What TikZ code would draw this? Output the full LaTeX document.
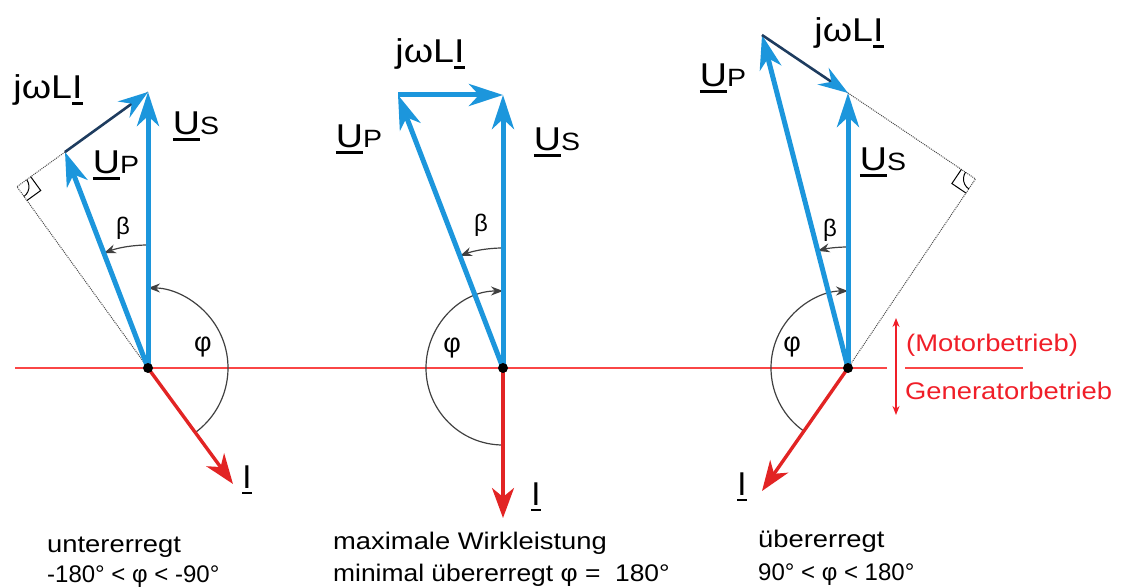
\documentclass[tikz,border=0pt]{standalone}
\usepackage{fontspec}
\setmainfont{Liberation Sans}
\usetikzlibrary{arrows.meta,calc,angles}
\definecolor{vblue}{RGB}{28,150,220}
\definecolor{vred}{RGB}{226,36,36}
\definecolor{tred}{RGB}{240,30,40}
\definecolor{lred}{RGB}{250,70,70}
\definecolor{jdark}{RGB}{30,60,95}
\newcommand\wx[1]{\scalebox{1.14}[1]{#1}}
\newcommand\ulin[1]{\vtop{\hbox{#1}\kern0.12em\hrule height 0.07em}}
\newcommand\Uv[1]{\wx{\ulin{U}{\fontsize{25}{25}\selectfont #1}}}
\newcommand\jwl{\wx{jωL\ulin{I}}}
\begin{document}
\begin{tikzpicture}[x=1pt,y=1pt,
  vec/.style={line width=5pt, vblue, -{Stealth[length=34pt,width=22pt,inset=10pt]}},
  jvec/.style={line width=2.6pt, jdark, -{Stealth[length=30pt,width=20pt,inset=10pt,color=vblue]}},
  cur/.style={line width=3.4pt, vred, -{Stealth[length=30pt,width=22pt,inset=9pt]}},
  ang/.style={line width=1.2pt, black!75, -{Stealth[length=12pt,width=9pt]}},
  helper/.style={densely dotted, line width=1pt, black!70},
  lab/.style={font=\fontsize{33}{33}\selectfont, inner sep=0pt},
  glab/.style={font=\fontsize{27}{27}\selectfont, inner sep=0pt},
  blab/.style={font=\fontsize{24}{24}\selectfont, inner sep=0pt},
  txt/.style={font=\fontsize{24}{24}\selectfont, inner sep=0pt, anchor=base west},
  rtxt/.style={txt, text=tred},
  origin/.style={circle, fill=black, inner sep=0pt, minimum size=10pt}]

\useasboundingbox (0,0) rectangle (1121,588);

% coordinates
\coordinate (O1) at (148,220);
\coordinate (Us1) at (148,496);
\coordinate (Up1) at (65,436);
\coordinate (I1) at (233,104);
\coordinate (O2) at (503,220);
\coordinate (Us2) at (503,493);
\coordinate (Up2) at (398,493);
\coordinate (I2) at (503,70);
\coordinate (O3) at (848,220);
\coordinate (Us3) at (848,495);
\coordinate (Up3) at (762,553);
\coordinate (I3) at (762,97);
\coordinate (C1) at ($(Up1)!(O1)!(Us1)$);
\coordinate (C3) at ($(Up3)!(O3)!(Us3)$);
\coordinate (L0) at (15,220);
\coordinate (L1) at (887,220);
\coordinate (L2) at (905,220);
\coordinate (L3) at (1023,220);
\coordinate (M0) at (896,270);
\coordinate (M1) at (896,173);

% red reference line
\draw[lred, line width=1.3pt] (L0) -- (L1);
\draw[lred, line width=1.3pt] (L2) -- (L3);
\draw[tred, line width=1.3pt, {Stealth[length=9pt,width=7pt]}-{Stealth[length=9pt,width=7pt]}] (M0) -- (M1);
\node[rtxt] (mot) at (906,236) {\wx{(Motorbetrieb)}};
\node[rtxt] (gen) at (905,188) {\wx{Generatorbetrieb}};

% helper lines and right-angle marks
\draw[helper] (Up1) -- (C1) -- (O1);
\draw[helper] (Us3) -- (C3) -- (O3);
\draw[helper] (Up1) -- (Us1);
\draw[helper] (Up3) -- (Us3);
\pic[draw, line width=1pt, angle radius=17pt] {right angle=O1--C1--Up1};
\pic[draw, line width=1pt, angle radius=12pt] {angle=O1--C1--Up1};
\pic[draw, line width=1pt, angle radius=17pt] {right angle=Us3--C3--O3};
\pic[draw, line width=1pt, angle radius=12pt] {angle=Us3--C3--O3};

% angle arcs
\draw[ang] ($(O1)+(-54:80)$) arc[start angle=-54, end angle=90, radius=80];
\draw[ang] ($(O1)+(90:123)$) arc[start angle=90, end angle=111, radius=123];
\draw[ang] ($(O2)+(270:77)$) arc[start angle=270, end angle=90, radius=77];
\draw[ang] ($(O2)+(90:120)$) arc[start angle=90, end angle=111, radius=120];
\draw[ang] ($(O3)+(235:77)$) arc[start angle=235, end angle=90, radius=77];
\draw[ang] ($(O3)+(90:121)$) arc[start angle=90, end angle=104.5, radius=121];

% vectors diagram 1
\draw[vec] (O1) -- (Us1);
\draw[vec] (O1) -- (Up1);
\draw[jvec] (Up1) -- (Us1);
\draw[cur] (O1) -- (I1);
% diagram 2
\draw[vec] (O2) -- (Us2);
\draw[vec] (O2) -- (Up2);
\draw[vec] (Up2) -- (Us2);
\draw[cur] (O2) -- (I2);
% diagram 3
\draw[vec] (O3) -- (Us3);
\draw[vec] (O3) -- (Up3);
\draw[jvec] (Up3) -- (Us3);
\draw[cur] (O3) -- (I3);

\node[origin] (o1) at (O1) {};
\node[origin] (o2) at (O2) {};
\node[origin] (o3) at (O3) {};

% labels
\node[lab] (j1) at (48,498) {\jwl};
\node[lab] (up1) at (116,423) {\Uv{P}};
\node[lab] (us1) at (196,462) {\Uv{S}};
\node[lab] (j2) at (430,534) {\jwl};
\node[lab] (up2) at (359,449) {\Uv{P}};
\node[lab] (us2) at (557,446) {\Uv{S}};
\node[lab] (j3) at (849,555) {\jwl};
\node[lab] (up3) at (723,510) {\Uv{P}};
\node[lab] (us3) at (883,426) {\Uv{S}};
\node[blab] (b1) at (123,360) {β};
\node[blab] (b2) at (481,363) {β};
\node[blab] (b3) at (830,358) {β};
\node[glab] (f1) at (203,241) {φ};
\node[glab] (f2) at (452,240) {φ};
\node[glab] (f3) at (792,241) {φ};
\node[lab] (i1) at (247,108) {\ulin{I}};
\node[lab] (i2) at (536,91) {\ulin{I}};
\node[lab] (i3) at (742,101) {\ulin{I}};

% bottom texts
\node[txt] (t1a) at (47,35) {\wx{untererregt}};
\node[txt] (t1b) at (47,5) {-180° < φ < -90°};
\node[txt] (t2a) at (333,38) {\wx{maximale Wirkleistung}};
\node[txt] (t2b) at (333,6) {\scalebox{1.1}[1]{minimal übererregt φ =\ \ 180°}};
\node[txt] (t3a) at (758,40) {\wx{übererregt}};
\node[txt] (t3b) at (758,7) {90° < φ < 180°};
\end{tikzpicture}
\end{document}
